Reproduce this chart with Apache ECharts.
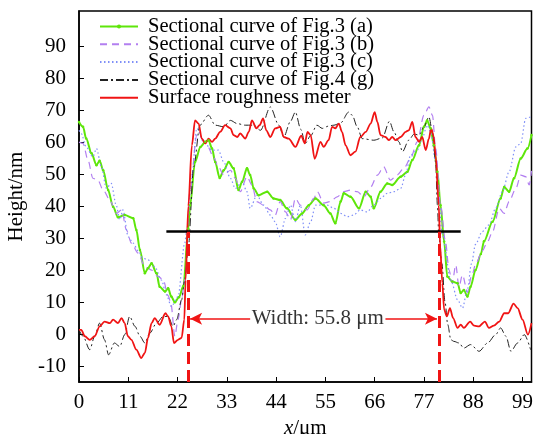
<!DOCTYPE html>
<html>
<head>
<meta charset="UTF-8">
<title>Sectional curves</title>
<script type="text/javascript" src="https://cdn.jsdelivr.net/npm/echarts@6/dist/echarts.min.js"></script>
<style type="text/css">
body {
	margin: 0;
	background-color: #fff
}
</style>
</head>
<body>
	<div id="chart" style="width: 533px; height: 434px"></div>
</body>
<script type="text/javascript">
	// tick labels
	var xTicks = [0, 11, 22, 33, 44, 55, 66, 77, 88, 99];
	var yTicks = [-10, 0, 10, 20, 30, 40, 50, 60, 70, 80, 90];

	var seriesNames = ['Sectional curve of Fig.3 (a)', 'Sectional curve of Fig.3 (b)',
		'Sectional curve of Fig.3 (c)', 'Sectional curve of Fig.4 (g)', 'Surface roughness meter'];

	// [x (um), height (nm)]
	var curveA = [[0,66.3],[0.9,64.8],[1.6,61.1],[2.8,56.5],[3.9,52.8],[4.6,54.2],[5.4,51.2],[6.5,45],[7.6,39.8],[8.7,36.5],[10.2,37.2],[12.1,36.2],[12.8,32.5],[13.6,26.3],[14.7,19],[15.4,20.6],[16.2,22.1],[17.3,19],[18.0,14.8],[19.2,13.3],[19.9,14.3],[20.6,11.7],[21.4,9.9],[22.3,11.5],[23.3,15],[24.4,33],[24.8,40.3],[25.9,53.8],[27.1,58.5],[28.2,60.1],[28.9,60.6],[29.7,58],[30.4,53.8],[31.4,48.8],[32.3,51.2],[33.4,53.8],[34.5,51.8],[35.6,45],[36.4,47.6],[37.5,51.8],[38.2,49.7],[39.0,45.5],[40.1,43.4],[42.0,44.5],[43.4,42.4],[44.9,41.9],[46.4,39.3],[48.3,35.7],[49.8,37.7],[51.3,40.3],[52.8,42.4],[54.6,40.3],[56.1,37.7],[57.2,34.6],[58.4,41.4],[59.1,44],[60.6,42.9],[62.5,39.3],[64.0,44.5],[65.1,42.9],[65.8,39.3],[67.3,44.5],[68.8,47.1],[69.9,46.6],[71.8,49.2],[73.3,50.7],[74.4,54.4],[75.9,59],[77.0,64.8],[77.7,66.8],[78.5,64.3],[79.2,59],[80.0,50.7],[80.7,40.3],[81.5,28.9],[82.2,18],[83.3,16.4],[84.5,15.9],[85.2,12.8],[85.9,13.8],[86.7,11.7],[87.4,14.8],[88.5,20],[89.7,25],[90.4,29],[92.3,35.1],[94.1,42.4],[94.9,46],[96.0,44.5],[97.1,48.7],[98.6,54.9],[100.1,58],[101,62.2]];
	var curveB = [[0,60],[0.9,59.6],[2.0,54.4],[3.1,48.7],[4.2,48.1],[5.4,45],[6.9,41.9],[8.3,37.7],[9.5,38.8],[10.6,32.5],[11.7,28.4],[13.2,25.3],[14.7,21.1],[16.2,20],[17.7,18],[18.8,16.9],[19.9,12],[20.5,9.7],[21.4,-0.7],[22.1,4.5],[22.9,10.7],[23.6,16.9],[24.8,45],[26.3,62.2],[27.4,61.1],[28.6,59],[30.0,55.4],[31.1,52.3],[32.3,49.7],[33.8,51.2],[34.9,48.7],[36.0,44.5],[37.5,49.2],[38.6,46.6],[39.7,41.4],[41.2,40.3],[42.7,38.8],[43.8,37.2],[44.9,41.4],[46.1,38.2],[47.2,35.7],[48.3,42.4],[49.4,40.3],[50.9,38.8],[52.4,42.4],[53.2,44.5],[54.6,40.9],[56.1,41.4],[57.6,42.9],[59.1,44.5],[60.6,45],[62.1,44.5],[63.6,42.9],[65.1,46],[66.6,49.7],[68.0,52.3],[69.5,48.1],[71.0,49.7],[72.5,51.8],[74.0,54.9],[75.5,60.1],[77.0,68.4],[78.1,71],[78.9,68.4],[79.6,58],[80.7,40.3],[81.8,28.9],[82.6,20],[83.3,15.9],[84.1,21.6],[84.8,14.8],[85.6,18.5],[86.7,13],[87.6,18],[88.6,22],[90.0,26],[91.2,28.9],[92.3,32],[93.8,39.3],[94.9,37.7],[96.0,41.4],[97.5,45.5],[98.6,49.7],[99.7,49.2],[100.5,46.6],[101,51]];
	var curveC = [[0,63.7],[0.5,62.7],[1.6,58.5],[3.1,55.4],[3.9,58],[5.0,52.3],[6.1,45.5],[7.2,47.1],[8.3,40.3],[9.1,35.7],[9.8,38.8],[11.0,30.4],[12.1,28.4],[13.2,26],[14.3,23.7],[15.4,23.2],[16.9,21.1],[18.4,16.9],[19.5,12.3],[20.6,8.6],[22.1,11.7],[23.6,28.4],[24.1,33],[25.2,49.7],[26.3,64.3],[27.8,60.1],[29.7,57.5],[31.1,57.5],[32.3,53.8],[33.8,48.7],[34.9,45.5],[36.4,47.6],[37.5,44.5],[38.2,39.3],[39.7,43.4],[41.2,40.3],[42.7,37.2],[43.8,35.1],[44.9,30.4],[46.1,36.2],[47.2,40.3],[48.3,35.1],[49.4,40.3],[50.5,31],[51.7,35.1],[52.8,40.3],[53.9,40.3],[55.4,40.3],[56.9,39.3],[58.4,37.7],[59.9,36.7],[61.3,37.2],[62.8,38.8],[64.3,38.2],[65.8,40.3],[67.3,42.4],[68.8,44],[70.3,44.5],[71.8,45.5],[72.9,49.7],[74.0,55.9],[75.5,57.5],[76.6,61.1],[77.7,65.3],[78.5,63.2],[79.6,53.8],[80.3,42.4],[81.1,31],[83.0,16.9],[84.5,10.7],[85.6,8.1],[86.7,14],[87.6,22],[88.5,28],[90.0,32],[91.5,34.1],[93.0,39.3],[94.5,44.5],[96.0,50.7],[97.5,58.5],[98.6,59.6],[99.7,67.4],[100.8,67.9]];
	var curveG = [[0,1.3],[0.9,-0.7],[2.4,-4.9],[3.5,-0.7],[4.6,3.4],[5.7,-1.8],[6.6,-6.5],[7.9,-2.8],[9.1,-3.9],[10.2,-0.2],[11.3,5.5],[12.5,2.4],[13.6,-0.7],[14.7,-2.8],[15.8,0.3],[17.3,3.4],[18.8,5.5],[19.9,5.5],[21.0,2.4],[21.8,4.5],[22.9,10.7],[23.6,16.9],[24.4,27.3],[25.6,52.3],[27.0,65.3],[28.9,68.4],[30.4,65.3],[32.3,64.8],[33.8,66.8],[35.3,65.8],[37.1,65.3],[39.0,65.3],[40.5,63.7],[42.7,71],[44.6,65.3],[45.7,61.6],[47.2,66.5],[48.3,69.4],[49.5,64],[50.5,59.6],[51.7,62],[53.1,65.3],[54.3,64.3],[55.7,65],[56.9,65.3],[58.4,66],[60.2,69.4],[61.0,68.4],[62.1,64.8],[63.2,61.1],[65.8,60.6],[67.7,61.3],[69.3,66.5],[70.3,63.2],[71.4,60.1],[72.2,57],[73.6,60.6],[74.8,62.5],[75.9,62.2],[77.0,64.8],[78.1,67.9],[78.9,63.2],[79.6,53.8],[80.0,40.3],[80.3,31],[81.0,22],[81.7,10],[82.3,3],[83.0,-1.8],[83.7,-2.3],[84.8,-2.8],[85.9,-4.4],[87.4,-3.3],[89.3,-5.4],[91.2,-2.8],[93.0,-0.2],[94.1,1.9],[95.3,-0.7],[96.4,-5.4],[97.9,-2.8],[99.4,-0.2],[100.8,-4.9]];
	var curveR = [[0,1.3],[0.5,1.3],[1.3,-0.7],[2.4,-1.8],[3.5,-0.7],[4.6,2.4],[5.7,3.9],[6.9,3.4],[7.6,4.5],[8.7,3.4],[9.5,5],[10.2,3.4],[10.9,-0.7],[11.7,-1.8],[12.8,-4.9],[13.9,-7.5],[14.7,-5.9],[15.4,-1.2],[16.2,3.4],[16.9,5],[18.0,2.9],[19.3,6.5],[19.9,5.5],[20.6,2.4],[21.2,-2.8],[22.1,-1.8],[22.9,-1.2],[23.5,4.5],[23.8,16.9],[24.4,40],[25.2,59],[25.9,66.8],[26.7,65.8],[27.4,61.1],[28.2,59.6],[28.9,61.1],[29.7,60.1],[30.4,61.1],[31.5,63.2],[32.6,65.3],[33.8,64.3],[34.5,62.2],[35.3,61.6],[36.0,62.7],[37.1,61.1],[37.9,63.2],[38.6,66.8],[39.6,64.3],[40.3,65.3],[41.1,67.4],[41.8,63.7],[42.7,61.6],[43.8,64.3],[44.9,64.8],[45.7,61.6],[46.8,61.1],[48.3,58.5],[49.6,62],[50.4,59.6],[51.0,63.2],[51.7,62.2],[52.6,54.8],[53.9,60.1],[54.6,58.5],[55.7,60.6],[56.5,64.8],[57.2,64.3],[58.0,65.8],[58.7,63.2],[59.5,59],[60.6,55.9],[61.7,57],[62.8,61.6],[64.0,63.2],[65.1,65.8],[66.0,69.4],[66.6,66.3],[67.3,62.2],[68.4,61.6],[69.2,60.6],[69.9,61.6],[70.7,60.6],[71.8,61.6],[72.9,63.2],[73.6,63.7],[74.4,66.3],[75.1,61.6],[75.9,60.1],[76.6,61.6],[77.4,57.5],[78.1,61.1],[78.6,64.3],[79.1,62.2],[79.6,55.9],[80.3,40.3],[80.6,27.9],[81.1,15.9],[81.5,7.6],[82.1,5.5],[82.8,8.1],[83.5,5],[84.5,1.9],[85.2,2.9],[85.9,1.9],[87.3,3.9],[88.2,2.6],[89.3,2.4],[90.6,3.9],[91.5,1.9],[92.6,2.6],[93.8,3.9],[94.9,6.5],[95.8,6.5],[97.0,9.5],[97.9,8.1],[99.0,4.5],[100.2,-0.2],[101,3.4]];

	// annotation values
	var edgeLeft = 24.3, edgeRight = 80.3;
	var refLevel = 32, refStart = 19.5, refEnd = 85.2;
	var arrowLevel = 4.8, labelLeft = 38.2, labelRight = 68.4, labelMid = 53.3;
	var widthText = 'Width: 55.8 μm';

	var serif = "'Liberation Serif', 'Times New Roman', serif";

	initChart();

	function curveSeries(name, data, color, width, dash, marker) {
		return {
			name : name,
			type : 'line',
			data : data,
			smooth : 0.3,
			smoothMonotone : 'x',
			symbol : marker ? 'circle' : 'none',
			symbolSize : 2.5,
			showSymbol : !!marker,
			itemStyle : { color : color },
			lineStyle : { color : color, width : width, type : dash },
			silent : true,
			z : 2
		};
	}

	function legendItems() {
		// only the first curve has a marker in its key
		var items = [];
		for (var i = 0; i < seriesNames.length; i++) {
			items.push(i == 0 ? { name : seriesNames[i] }
				: { name : seriesNames[i], itemStyle : { opacity : 0 } });
		}
		return items;
	}

	function initChart() {
		var myChart = echarts.init(document.getElementById("chart"));
		var option = {
			animation : false,
			textStyle : { fontFamily : serif },
			grid : {
				left : 79, right : 1.5, top : 11, bottom : 52,
				outerBoundsMode : 'none',
				show : true, borderColor : '#000', borderWidth : 1.5
			},
			legend : {
				orient : 'vertical',
				left : 99, top : 16, padding : 0,
				itemWidth : 38, itemHeight : 5, itemGap : -3.2,
				data : legendItems(),
				textStyle : {
					fontFamily : serif, fontSize : 20.5, lineHeight : 18.5,
					color : '#000', padding : [0, 0, 0, 5]
				}
			},
			xAxis : {
				type : 'value', min : 0, max : 101,
				name : '{i|x}/μm', nameLocation : 'middle', nameGap : 26,
				nameTextStyle : {
					fontFamily : serif, fontSize : 21, color : '#000',
					rich : { i : { fontFamily : serif, fontSize : 21, fontStyle : 'italic', color : '#000' } }
				},
				axisLine : { onZero : false, lineStyle : { color : '#000', width : 1.5 } },
				axisTick : { inside : true, length : 5, customValues : xTicks, lineStyle : { color : '#000' } },
				axisLabel : { customValues : xTicks, fontFamily : serif, fontSize : 21, color : '#000', margin : 10 },
				splitLine : { show : false }
			},
			yAxis : {
				type : 'value', min : -15, max : 101,
				name : 'Height/nm', nameLocation : 'middle', nameGap : 47,
				nameTextStyle : { fontFamily : serif, fontSize : 21, color : '#000' },
				axisLine : { onZero : false, lineStyle : { color : '#000', width : 1.5 } },
				axisTick : { inside : true, length : 5, customValues : yTicks, lineStyle : { color : '#000' } },
				axisLabel : { customValues : yTicks, fontFamily : serif, fontSize : 21, color : '#000', margin : 13 },
				splitLine : { show : false }
			},
			series : [
				curveSeries(seriesNames[0], curveA, '#5ee60a', 2, 'solid', true),
				curveSeries(seriesNames[1], curveB, '#b27ff0', 1.2, [7, 5], false),
				curveSeries(seriesNames[2], curveC, '#7f8ff7', 1.2, [1.5, 2.5], false),
				curveSeries(seriesNames[3], curveG, '#222', 1, [8, 3, 2, 3], false),
				curveSeries(seriesNames[4], curveR, '#f01414', 1.8, 'solid', false),
				{
					name : 'annotations',
					type : 'line',
					data : [],
					silent : true,
					markLine : {
						silent : true,
						animation : false,
						symbol : 'none',
						label : { show : false },
						data : [
							[ { coord : [refStart, refLevel], lineStyle : { color : '#000', width : 2.5, type : 'solid' } },
							  { coord : [refEnd, refLevel] } ],
							[ { coord : [edgeLeft, -15], lineStyle : { color : '#f01414', width : 3, type : [12, 6] } },
							  { coord : [edgeLeft, refLevel] } ],
							[ { coord : [edgeRight, -15], lineStyle : { color : '#f01414', width : 3, type : [12, 6] } },
							  { coord : [edgeRight, refLevel] } ],
							[ { coord : [labelLeft, arrowLevel], symbol : 'none', lineStyle : { color : '#f01414', width : 1.5, type : 'solid' } },
							  { coord : [edgeLeft + 0.5, arrowLevel], symbol : 'arrow', symbolSize : [9, 12] } ],
							[ { coord : [labelRight, arrowLevel], symbol : 'none', lineStyle : { color : '#f01414', width : 1.5, type : 'solid' } },
							  { coord : [edgeRight - 0.4, arrowLevel], symbol : 'arrow', symbolSize : [9, 12] } ]
						]
					}
				},
				{
					name : 'widthLabel',
					type : 'scatter',
					data : [ [ labelMid, arrowLevel ] ],
					symbolSize : 1,
					itemStyle : { color : 'rgba(0,0,0,0)' },
					silent : true,
					label : {
						show : true, position : 'inside',
						formatter : widthText,
						fontFamily : serif, fontSize : 21, color : '#000'
					}
				}
			]
		};
		myChart.setOption(option);
	}
</script>
</html>
